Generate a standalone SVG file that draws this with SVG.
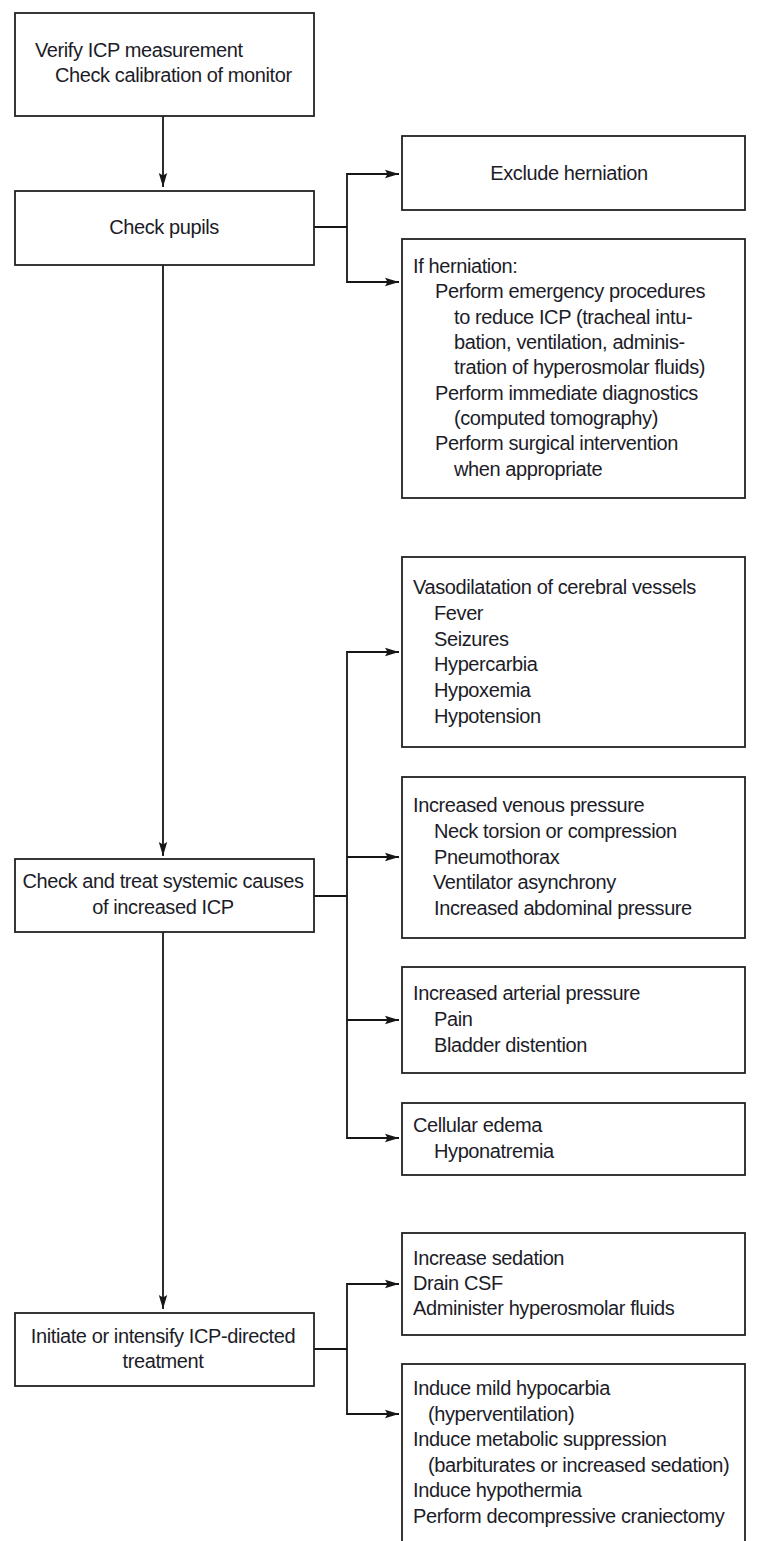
<svg xmlns="http://www.w3.org/2000/svg" width="766" height="1541" viewBox="0 0 766 1541">
  <defs>
    <marker id="arrow" markerUnits="userSpaceOnUse" markerWidth="15" markerHeight="10" refX="14" refY="5" orient="auto">
      <path d="M0,0.8 L14,5 L0,9.2 L2.5,5 z" fill="#161616"/>
    </marker>
    <style>
      .box { fill: #ffffff; stroke: #222222; stroke-width: 1.8; }
      .txt { font-family: "Liberation Sans", Arial, sans-serif; font-size: 20px; letter-spacing: -0.4px; fill: #1c1c28; }
      .mid { text-anchor: middle; }
      .conn path { fill: none; stroke: #161616; stroke-width: 1.8; }
    </style>
  </defs>
  <rect width="766" height="1541" fill="#ffffff"/>

  <!-- connectors -->
  <g id="connectors" class="conn">
    <!-- main trunk -->
    <path d="M163,116 V187" marker-end="url(#arrow)"/>
    <path d="M163,265 V856" marker-end="url(#arrow)"/>
    <path d="M163,932 V1309" marker-end="url(#arrow)"/>
    <!-- pupils branch -->
    <path d="M314,227 H347"/>
    <path d="M347,227 V174 H399" marker-end="url(#arrow)"/>
    <path d="M347,227 V282 H399" marker-end="url(#arrow)"/>
    <!-- systemic causes branch -->
    <path d="M314,896 H347"/>
    <path d="M347,896 V652 H399" marker-end="url(#arrow)"/>
    <path d="M347,857 H399" marker-end="url(#arrow)"/>
    <path d="M347,896 V1138 H399" marker-end="url(#arrow)"/>
    <path d="M347,1020 H399" marker-end="url(#arrow)"/>
    <!-- treatment branch -->
    <path d="M314,1349 H347"/>
    <path d="M347,1349 V1284 H399" marker-end="url(#arrow)"/>
    <path d="M347,1349 V1414 H399" marker-end="url(#arrow)"/>
  </g>

  <g id="verify">
    <rect class="box" x="15" y="13" width="299" height="103"/>
    <text class="txt" x="35" y="57">Verify ICP measurement</text>
    <text class="txt" x="55" y="82">Check calibration of monitor</text>
  </g>

  <g id="pupils">
    <rect class="box" x="15" y="191" width="299" height="74"/>
    <text class="txt mid" x="164" y="234">Check pupils</text>
  </g>

  <g id="exclude">
    <rect class="box" x="402" y="136" width="343" height="74"/>
    <text class="txt mid" x="569" y="180">Exclude herniation</text>
  </g>

  <g id="herniation">
    <rect class="box" x="402" y="239" width="343" height="259"/>
    <text class="txt" x="413" y="273">If herniation:</text>
    <text class="txt" x="435" y="298">Perform emergency procedures</text>
    <text class="txt" x="454" y="324">to reduce ICP (tracheal intu-</text>
    <text class="txt" x="454" y="349">bation, ventilation, adminis-</text>
    <text class="txt" x="454" y="374">tration of hyperosmolar fluids)</text>
    <text class="txt" x="435" y="400">Perform immediate diagnostics</text>
    <text class="txt" x="454" y="425">(computed tomography)</text>
    <text class="txt" x="435" y="450">Perform surgical intervention</text>
    <text class="txt" x="454" y="476">when appropriate</text>
  </g>

  <g id="systemic">
    <rect class="box" x="15" y="859" width="299" height="73"/>
    <text class="txt mid" x="163" y="888">Check and treat systemic causes</text>
    <text class="txt mid" x="163" y="914">of increased ICP</text>
  </g>

  <g id="vasodilatation">
    <rect class="box" x="402" y="557" width="343" height="190"/>
    <text class="txt" x="413" y="594">Vasodilatation of cerebral vessels</text>
    <text class="txt" x="434" y="620">Fever</text>
    <text class="txt" x="434" y="646">Seizures</text>
    <text class="txt" x="434" y="671">Hypercarbia</text>
    <text class="txt" x="434" y="697">Hypoxemia</text>
    <text class="txt" x="434" y="723">Hypotension</text>
  </g>

  <g id="venous">
    <rect class="box" x="402" y="777" width="343" height="161"/>
    <text class="txt" x="413" y="812">Increased venous pressure</text>
    <text class="txt" x="434" y="838">Neck torsion or compression</text>
    <text class="txt" x="434" y="864">Pneumothorax</text>
    <text class="txt" x="433" y="889">Ventilator asynchrony</text>
    <text class="txt" x="434" y="915">Increased abdominal pressure</text>
  </g>

  <g id="arterial">
    <rect class="box" x="402" y="967" width="343" height="106"/>
    <text class="txt" x="413" y="1000">Increased arterial pressure</text>
    <text class="txt" x="434" y="1026">Pain</text>
    <text class="txt" x="434" y="1052">Bladder distention</text>
  </g>

  <g id="cellular">
    <rect class="box" x="402" y="1103" width="343" height="72"/>
    <text class="txt" x="413" y="1132">Cellular edema</text>
    <text class="txt" x="434" y="1158">Hyponatremia</text>
  </g>

  <g id="initiate">
    <rect class="box" x="15" y="1313" width="299" height="73"/>
    <text class="txt mid" x="163" y="1343">Initiate or intensify ICP-directed</text>
    <text class="txt mid" x="163" y="1368">treatment</text>
  </g>

  <g id="first-line">
    <rect class="box" x="402" y="1233" width="343" height="102"/>
    <text class="txt" x="413" y="1265">Increase sedation</text>
    <text class="txt" x="413" y="1290">Drain CSF</text>
    <text class="txt" x="413" y="1315">Administer hyperosmolar fluids</text>
  </g>

  <g id="second-line">
    <rect class="box" x="402" y="1364" width="343" height="200"/>
    <text class="txt" x="413" y="1395">Induce mild hypocarbia</text>
    <text class="txt" x="428" y="1421">(hyperventilation)</text>
    <text class="txt" x="413" y="1446">Induce metabolic suppression</text>
    <text class="txt" x="428" y="1472">(barbiturates or increased sedation)</text>
    <text class="txt" x="413" y="1497">Induce hypothermia</text>
    <text class="txt" x="413" y="1523">Perform decompressive craniectomy</text>
  </g>
</svg>
